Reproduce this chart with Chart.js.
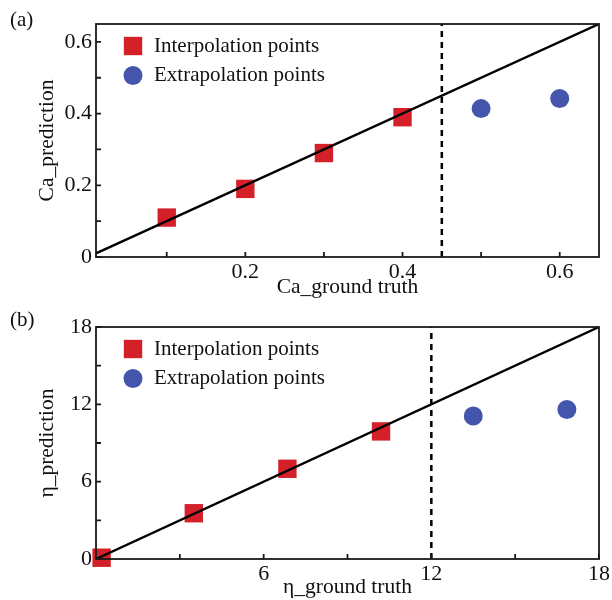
<!DOCTYPE html>
<html>
<head>
<meta charset="utf-8">
<script src="https://cdn.jsdelivr.net/npm/chart.js@4.4.1/dist/chart.umd.min.js"></script>
<style>
  html, body { margin: 0; padding: 0; background: #fff; }
  .panel { position: relative; width: 612px; height: 300px; }
  .tag { position: absolute; left: 10px; top: 7px; font: 21px 'Liberation Serif', serif; color: #111; }
</style>
</head>
<body>
<div class="panel"><span class="tag">(a)</span><canvas id="chartA" width="612" height="300"></canvas></div>
<div class="panel"><span class="tag">(b)</span><canvas id="chartB" width="612" height="300"></canvas></div>
<script>
// panel (a): Ca
const caInterpX = [0.1, 0.2, 0.3, 0.4];
const caInterpY = [0.11, 0.19, 0.29, 0.39];
const caExtrapX = [0.5, 0.6];
const caExtrapY = [0.414, 0.442];
const caRange = [0.01, 0.65];
const caLimit = 0.45;
const caXTicks = [0.2, 0.4, 0.6];
const caYTicks = [0, 0.2, 0.4, 0.6];
const caXMinor = [0.1, 0.3, 0.5];
const caYMinor = [0.1, 0.3, 0.5];

// panel (b): eta
const etaInterpX = [0.2, 3.5, 6.85, 10.2];
const etaInterpY = [0.1, 3.55, 7.0, 9.9];
const etaExtrapX = [13.5, 16.85];
const etaExtrapY = [11.1, 11.6];
const etaRange = [0, 18];
const etaLimit = 12;
const etaXTicks = [6, 12, 18];
const etaYTicks = [0, 6, 12, 18];
const etaXMinor = [3, 9, 15];
const etaYMinor = [3, 9, 15];

const RED = '#d42129';
const BLUE = '#4356ab';
const FONT = "'Liberation Serif', 'Times New Roman', serif";

const toPts = (xs, ys) => xs.map((x, i) => ({ x, y: ys[i] }));

// frame + inward tick marks + in-plot legend
const framePlugin = {
  id: 'frame',
  afterDraw(chart, args, opts) {
    const { ctx, chartArea: a, scales: { x, y } } = chart;
    ctx.save();
    ctx.strokeStyle = '#1a1a1a';
    ctx.lineWidth = 1.8;
    ctx.beginPath();
    [...opts.xTicks, ...opts.xMinor].forEach(v => {
      const px = x.getPixelForValue(v);
      ctx.moveTo(px, a.bottom);
      ctx.lineTo(px, a.bottom - 5);
    });
    [...opts.yTicks, ...opts.yMinor].forEach(v => {
      const py = y.getPixelForValue(v);
      ctx.moveTo(a.left, py);
      ctx.lineTo(a.left + 5, py);
    });
    ctx.stroke();
    ctx.strokeRect(a.left, a.top, a.right - a.left, a.bottom - a.top);

    // legend
    ctx.font = `21px ${FONT}`;
    ctx.textBaseline = 'middle';
    chart.data.datasets.filter(d => d.inLegend).forEach((d, i) => {
      const lx = a.left + 37, ly = a.top + 22 + i * 29.5;
      ctx.fillStyle = d.backgroundColor;
      Chart.helpers.drawPoint(ctx, { pointStyle: d.pointStyle, radius: d.pointRadius, borderWidth: 0, rotation: 0 }, lx, ly);
      ctx.fillStyle = '#111';
      ctx.fillText(d.label, a.left + 58, ly);
    });
    ctx.restore();
  }
};

function makeChart(id, p) {
  return new Chart(document.getElementById(id), {
    type: 'scatter',
    data: {
      datasets: [
        {
          label: 'y = x', type: 'line', order: 0,
          data: [{ x: p.range[0], y: p.range[0] }, { x: p.range[1], y: p.range[1] }],
          borderColor: '#000', borderWidth: 2.4, pointRadius: 0, fill: false
        },
        {
          label: 'limit', type: 'line', order: 0,
          data: [{ x: p.limit, y: p.yMin }, { x: p.limit, y: p.range[1] }],
          borderColor: '#000', borderWidth: 2.5, borderDash: [6, 5], pointRadius: 0, fill: false
        },
        {
          label: 'Interpolation points', inLegend: true, order: 1,
          data: toPts(p.ix, p.iy), pointStyle: 'rect', pointRadius: 13,
          backgroundColor: RED, borderWidth: 0, clip: false
        },
        {
          label: 'Extrapolation points', inLegend: true, order: 1,
          data: toPts(p.ex, p.ey), pointStyle: 'circle', pointRadius: 9.5,
          backgroundColor: BLUE, borderWidth: 0, clip: false
        }
      ]
    },
    options: {
      responsive: false,
      animation: false,
      layout: { padding: { left: 0, top: p.top, right: 10, bottom: 0 } },
      plugins: {
        legend: { display: false },
        tooltip: { enabled: false },
        frame: { xTicks: p.xTicks, yTicks: p.yTicks, xMinor: p.xMinor, yMinor: p.yMinor }
      },
      scales: {
        x: {
          type: 'linear', min: p.range[0], max: p.range[1],
          afterBuildTicks: s => { s.ticks = p.xTicks.map(v => ({ value: v })); },
          afterFit: s => { s.height = p.xHeight; s.paddingLeft = 0; s.paddingRight = 0; },
          grid: { display: false },
          border: { display: false },
          ticks: { padding: -6, color: '#111', font: { family: FONT, size: 22 } },
          title: { display: true, text: p.xTitle, color: '#111', padding: { top: 0, bottom: 0 }, font: { family: FONT, size: 21.5 } }
        },
        y: {
          type: 'linear', min: p.yMin, max: p.range[1],
          afterBuildTicks: s => { s.ticks = p.yTicks.map(v => ({ value: v })); },
          afterFit: s => { s.width = 96; s.paddingTop = 0; s.paddingBottom = 0; },
          grid: { display: false },
          border: { display: false },
          ticks: { padding: -4, color: '#111', font: { family: FONT, size: 22 } },
          title: { display: true, text: p.yTitle, color: '#111', padding: { top: 34, bottom: 0 }, font: { family: FONT, size: 21.5 } }
        }
      }
    },
    plugins: [framePlugin]
  });
}

makeChart('chartA', {
  ix: caInterpX, iy: caInterpY, ex: caExtrapX, ey: caExtrapY,
  range: caRange, yMin: 0, limit: caLimit,
  xTicks: caXTicks, yTicks: caYTicks, xMinor: caXMinor, yMinor: caYMinor,
  xTitle: 'Ca_ground truth', yTitle: 'Ca_prediction', top: 24, xHeight: 43
});

makeChart('chartB', {
  ix: etaInterpX, iy: etaInterpY, ex: etaExtrapX, ey: etaExtrapY,
  range: etaRange, yMin: 0, limit: etaLimit,
  xTicks: etaXTicks, yTicks: etaYTicks, xMinor: etaXMinor, yMinor: etaYMinor,
  xTitle: 'η_ground truth', yTitle: 'η_prediction', top: 27, xHeight: 41
});
</script>
</body>
</html>
